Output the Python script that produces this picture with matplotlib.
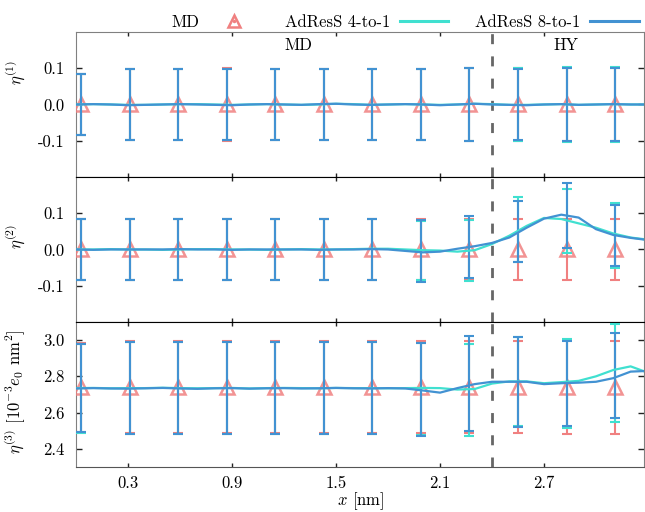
import numpy as np
import matplotlib
matplotlib.use("Agg")
import matplotlib.pyplot as plt
from matplotlib.lines import Line2D
from matplotlib.legend_handler import HandlerTuple

plt.rcParams['font.family'] = 'serif'
plt.rcParams['font.serif'] = ['cmr10']
plt.rcParams['mathtext.fontset'] = 'cm'
plt.rcParams['axes.unicode_minus'] = False
plt.rcParams['font.size'] = 12

# Colours
c_md = '#F08080'
c_4 = '#40E0D0'
c_8 = '#4292D2'

# Error-bar sample positions (nm)
x_pts = [0.03, 0.31, 0.59, 0.87, 1.15, 1.43, 1.71, 1.99, 2.27, 2.55, 2.83, 3.11]

# eta^(1)
eta1_md = [0, 0, 0, 0, 0, 0, 0, 0, 0, 0, 0, 0]
eta1_md_err = [0.085, 0.098, 0.097, 0.101, 0.097, 0.097, 0.097, 0.098, 0.1, 0.1, 0.1, 0.1]
eta1_4 = [0, 0, 0, 0, 0, 0, 0, 0, 0, 0, 0, 0]
eta1_4_err = [0.085, 0.098, 0.097, 0.098, 0.099, 0.097, 0.099, 0.097, 0.1, 0.102, 0.103, 0.104]
eta1_8 = [0, 0, 0, 0, 0, 0, 0, 0, 0, 0, 0, 0]
eta1_8_err = [0.085, 0.097, 0.097, 0.097, 0.097, 0.097, 0.097, 0.097, 0.1, 0.097, 0.1, 0.1]

# eta^(2)
eta2_md = [0, 0, 0, 0, 0, 0, 0, 0, 0, 0, 0, 0]
eta2_md_err = [0.085, 0.085, 0.085, 0.085, 0.085, 0.085, 0.085, 0.085, 0.085, 0.085, 0.084, 0.085]
eta2_4 = [0, 0, 0, 0, 0, 0, 0, -0.002, -0.003, 0.055, 0.078, 0.039]
eta2_4_err = [0.085, 0.085, 0.085, 0.085, 0.085, 0.085, 0.085, 0.081, 0.083, 0.09, 0.089, 0.089]
eta2_8 = [0, 0, 0, 0, 0, 0, 0, -0.005, 0.007, 0.05, 0.094, 0.039]
eta2_8_err = [0.085, 0.085, 0.085, 0.085, 0.085, 0.085, 0.085, 0.085, 0.086, 0.084, 0.089, 0.085]

# eta^(3)
eta3_md = [2.74, 2.74, 2.74, 2.74, 2.74, 2.74, 2.74, 2.74, 2.74, 2.74, 2.74, 2.74]
eta3_md_err = [0.245, 0.255, 0.255, 0.255, 0.255, 0.255, 0.255, 0.255, 0.255, 0.255, 0.258, 0.257]
eta3_4 = [2.735, 2.735, 2.735, 2.735, 2.735, 2.735, 2.735, 2.73, 2.725, 2.77, 2.761, 2.82]
eta3_4_err = [0.245, 0.255, 0.255, 0.255, 0.255, 0.255, 0.255, 0.255, 0.253, 0.245, 0.244, 0.27]
eta3_8 = [2.737, 2.735, 2.735, 2.735, 2.735, 2.735, 2.735, 2.725, 2.76, 2.768, 2.76, 2.806]
eta3_8_err = [0.243, 0.255, 0.255, 0.255, 0.255, 0.255, 0.255, 0.257, 0.262, 0.25, 0.235, 0.234]

# Continuous profiles
x_line = [0.0, 0.1, 0.2, 0.3, 0.4, 0.5, 0.6, 0.7, 0.8, 0.9, 1.0, 1.1, 1.2, 1.3, 1.4, 1.5, 1.6,
          1.7, 1.8, 1.9, 2.0, 2.1, 2.2, 2.3, 2.4, 2.5, 2.6, 2.7, 2.8, 2.9, 3.0, 3.1, 3.2, 3.3]
eta1_4_line = [0.0, 0.001, 0.0, -0.001, -0.001, 0.0, 0.001, 0.001, 0.0, -0.001, 0.0, 0.001, 0.0,
               -0.001, 0.0, 0.002, 0.001, -0.001, 0.0, 0.001, 0.0, -0.001, 0.0, 0.002, 0.001, -0.001,
               -0.001, 0.0, 0.001, -0.001, 0.0, 0.001, 0.0, 0.0]
eta1_8_line = [0.0, 0.001, 0.0, -0.002, -0.001, 0.0, 0.001, 0.0, -0.001, -0.002, 0.0, 0.001, 0.0,
               -0.001, 0.001, 0.002, 0.0, -0.001, 0.0, 0.001, 0.0, -0.002, 0.0, 0.002, 0.0, -0.001,
               -0.002, 0.0, 0.001, -0.001, 0.0, 0.001, 0.0, 0.0]
eta2_4_line = [0.0, 0.0, 0.001, 0.0, 0.0, -0.001, 0.0, 0.001, 0.001, 0.0, 0.0, -0.001, 0.0, 0.001,
               0.0, 0.0, 0.001, 0.002, 0.002, 0.0, -0.002, -0.003, -0.006, -0.002, 0.015, 0.038,
               0.065, 0.087, 0.084, 0.072, 0.06, 0.044, 0.033, 0.027]
eta2_8_line = [0.0, -0.001, 0.0, 0.0, 0.0, 0.0, 0.001, 0.0, 0.0, -0.001, 0.0, 0.0, 0.0, 0.0,
               -0.001, 0.0, 0.0, 0.001, 0.0, -0.004, -0.008, -0.006, 0.002, 0.009, 0.018, 0.033,
               0.06, 0.085, 0.096, 0.088, 0.056, 0.04, 0.032, 0.026]
eta3_4_line = [2.735, 2.736, 2.734, 2.735, 2.735, 2.737, 2.735, 2.734, 2.735, 2.736, 2.733, 2.735,
               2.736, 2.735, 2.734, 2.736, 2.735, 2.735, 2.734, 2.735, 2.736, 2.735, 2.727, 2.73,
               2.76, 2.772, 2.772, 2.762, 2.768, 2.775, 2.8, 2.835, 2.855, 2.82]
eta3_8_line = [2.733, 2.735, 2.733, 2.732, 2.734, 2.736, 2.733, 2.731, 2.734, 2.735, 2.732, 2.734,
               2.735, 2.733, 2.734, 2.736, 2.734, 2.733, 2.735, 2.733, 2.722, 2.71, 2.735, 2.757,
               2.77, 2.77, 2.77, 2.757, 2.762, 2.765, 2.77, 2.79, 2.826, 2.83]

ylabels = [r'$\eta^{(1)}$', r'$\eta^{(2)}$', r'$\eta^{(3)}$ [$10^{-3}e_0$ nm$^2$]']
ylims = [(-0.2, 0.2), (-0.2, 0.2), (2.3, 3.1)]
yticks = [[-0.1, 0.0, 0.1], [-0.1, 0.0, 0.1], [2.4, 2.6, 2.8, 3.0]]
ytick_labels = [['-0.1', '0.0', '0.1'], ['-0.1', '0.0', '0.1'], ['2.4', '2.6', '2.8', '3.0']]
ylabel_y = [0.72, 0.59, 0.52]
xticks_top = [0.0, 0.5, 1.0, 1.5, 2.0, 2.5, 3.0]
xticks_bottom = [0.3, 0.9, 1.5, 2.1, 2.7]
x_boundary = 2.4

panels = [
    (eta1_md, eta1_md_err, eta1_4, eta1_4_err, eta1_8, eta1_8_err, eta1_4_line, eta1_8_line),
    (eta2_md, eta2_md_err, eta2_4, eta2_4_err, eta2_8, eta2_8_err, eta2_4_line, eta2_8_line),
    (eta3_md, eta3_md_err, eta3_4, eta3_4_err, eta3_8, eta3_8_err, eta3_4_line, eta3_8_line),
]

fig, axes = plt.subplots(3, 1, figsize=(6.45, 5.12), dpi=100, sharex=True)
fig.subplots_adjust(left=0.118, right=0.9992, top=0.9375, bottom=0.088, hspace=0)

outer = '#808080'
for i, (ax, p) in enumerate(zip(axes, panels)):
    md, md_err, a4, a4_err, a8, a8_err, l4, l8 = p
    ax.axvline(x_boundary, color='#666666', lw=2, linestyle=(0, (3.6, 4.4)), zorder=1)
    ax.errorbar(x_pts, md, yerr=md_err, fmt='none', ecolor=c_md, elinewidth=1.5,
                capsize=3.5, capthick=1.5, zorder=2)
    ax.plot(x_pts, md, linestyle='none', marker='^', ms=10, mfc='none', mec=c_md,
            mew=1.8, alpha=0.85, zorder=3)
    ax.errorbar(x_pts, a4, yerr=a4_err, fmt='none', ecolor=c_4, elinewidth=1.5,
                capsize=3.5, capthick=1.5, zorder=4)
    ax.errorbar(x_pts, a8, yerr=a8_err, fmt='none', ecolor=c_8, elinewidth=1.5,
                capsize=3.5, capthick=1.5, zorder=5)
    ax.plot(x_line, l4, color=c_4, lw=1.6, zorder=6)
    ax.plot(x_line, l8, color=c_8, lw=1.6, zorder=7)

    ax.set_xlim(0, 3.28)
    ax.set_ylim(*ylims[i])
    ax.set_yticks(yticks[i])
    ax.set_yticklabels(ytick_labels[i])
    ax.tick_params(axis='y', direction='in', length=4.3, width=1, left=True, right=True,
                   pad=8, color='#222222')
    ax.tick_params(axis='x', direction='in', length=3.2, width=1, top=True, bottom=True,
                   pad=6, color='#222222')
    ax.set_ylabel(ylabels[i])
    ax.yaxis.set_label_coords(-0.086, ylabel_y[i])

    for s in ['left', 'right']:
        ax.spines[s].set_color(outer)
    ax.spines['top'].set_color(outer if i == 0 else 'black')
    ax.spines['bottom'].set_color('#555555' if i == 2 else 'black')

    if i < 2:
        ax.set_xticks(xticks_top)
        ax.tick_params(axis='x', labelbottom=False)
    else:
        ax.set_xticks(xticks_bottom)
        ax.set_xticklabels([f'{v:.1f}' for v in xticks_bottom])

axes[2].set_xlabel(r'$x$ [nm]', labelpad=0)

axes[0].text(1.284, 0.163, 'MD', ha='center', va='center')
axes[0].text(2.825, 0.163, 'HY', ha='center', va='center')

# Legend (text first, sample after)
h_md = (Line2D([], [], linestyle='none', marker='^', ms=8, mfc='none', mec=c_md, mew=1.8),
        Line2D([], [], linestyle='none', marker='o', ms=1.5, mfc=c_md, mec=c_md))
h_4 = Line2D([], [], color=c_4, lw=2.2)
h_8 = Line2D([], [], color=c_8, lw=2.2)
fig.legend([h_md, h_4, h_8], ['MD', 'AdResS 4-to-1', 'AdResS 8-to-1'],
           handler_map={tuple: HandlerTuple(ndivide=1)},
           loc='center right', bbox_to_anchor=(0.99, 0.956), ncol=3, frameon=False,
           markerfirst=False, handlelength=2.9, handletextpad=0.6, columnspacing=1.6,
           borderpad=0, borderaxespad=0)

fig.savefig('out.png', dpi=100)
